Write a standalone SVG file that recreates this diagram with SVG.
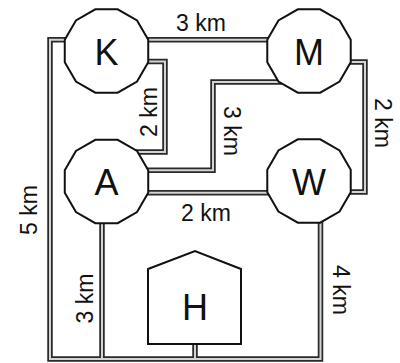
<svg xmlns="http://www.w3.org/2000/svg" width="400" height="363" viewBox="0 0 400 363">
<style>
.ro{fill:none;stroke:#2a2a2a;stroke-width:5.5;stroke-linejoin:miter;stroke-linecap:butt}
.ri{fill:none;stroke:#d4d4d4;stroke-width:2;stroke-linejoin:miter;stroke-linecap:butt}
.nd{fill:#fff;stroke:#111;stroke-width:2}
.nt{font-family:"Liberation Sans",Arial,sans-serif;font-size:36px;fill:#111;text-anchor:middle}
.lb{font-family:"Liberation Sans",Arial,sans-serif;font-size:23px;fill:#111;text-anchor:middle}
</style>
<defs>
<polygon id="dod" points="41.73,-11.18 30.55,-30.55 11.18,-41.73 -11.18,-41.73 -30.55,-30.55 -41.73,-11.18 -41.73,11.18 -30.55,30.55 -11.18,41.73 11.18,41.73 30.55,30.55 41.73,11.18"/>
<g id="roads">
<path id="r-km" d="M140 39.8 H275"/>
<path id="r-ka" d="M140 61.5 H165 V152 H130"/>
<path id="r-am" d="M140 170.3 H213 V82 H285"/>
<path id="r-aw" d="M140 192.7 H275"/>
<path id="r-mw" d="M340 62 H365 V192 H340"/>
<path id="r-5" d="M72 39.8 H50 V359 H320.5 V215"/>
<path id="r-a" d="M102 215 V359"/>
<path id="r-h" d="M195 340 V359"/>
</g>
</defs>
<rect width="400" height="363" fill="#fff"/>
<g id="connectors">
<use href="#roads" class="ro"/>
<use href="#roads" class="ri"/>
</g>
<g id="labels">
<text class="lb" x="201" y="31">3 km</text>
<text class="lb" x="206" y="221">2 km</text>
<text class="lb" transform="translate(156.5,112) rotate(-90)">2 km</text>
<text class="lb" transform="translate(223.5,131) rotate(90)">3 km</text>
<text class="lb" transform="translate(375,123) rotate(90)">2 km</text>
<text class="lb" transform="translate(36.5,210) rotate(-90)">5 km</text>
<text class="lb" transform="translate(92.5,298.5) rotate(-90)">3 km</text>
<text class="lb" transform="translate(333,290) rotate(90)">4 km</text>
</g>
<g id="node-K">
<use href="#dod" class="nd" transform="translate(106.5,51)"/>
<text class="nt" x="106.5" y="64.5">K</text>
</g>
<g id="node-M">
<use href="#dod" class="nd" transform="translate(309,51)"/>
<text class="nt" x="309" y="64.5">M</text>
</g>
<g id="node-A">
<use href="#dod" class="nd" transform="translate(106.5,181.5)"/>
<text class="nt" x="106.5" y="195">A</text>
</g>
<g id="node-W">
<use href="#dod" class="nd" transform="translate(309,181)"/>
<text class="nt" x="309" y="194.5">W</text>
</g>
<g id="node-H">
<polygon class="nd" points="148,269 195,251 241,269 241,344 148,344"/>
<text class="nt" x="195" y="320">H</text>
</g>
</svg>
